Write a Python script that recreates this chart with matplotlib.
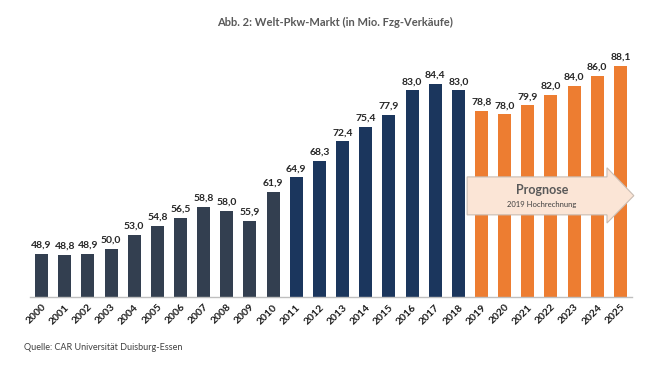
import matplotlib
matplotlib.use("Agg")
import matplotlib.pyplot as plt
from matplotlib.patches import Polygon

plt.rcParams['font.family'] = ['Lato', 'DejaVu Sans']

years = [str(y) for y in range(2000, 2026)]
sales = [48.9, 48.8, 48.9, 50.0, 53.0, 54.8, 56.5, 58.8, 58.0, 55.9, 61.9,
         64.9, 68.3, 72.4, 75.4, 77.9, 83.0, 84.4, 83.0,
         78.8, 78.0, 79.9, 82.0, 84.0, 86.0, 88.1]
labels = [f"{v:.1f}".replace(".", ",") for v in sales]

colors = (['#333f50'] * 11) + (['#1b365d'] * 8) + (['#ed7d31'] * 7)

fig = plt.figure(figsize=(6.45, 3.7), dpi=100)
ax = fig.add_axes([30 / 645, 1 - 297 / 370, 602 / 645, 257 / 370])

x = list(range(len(years)))
ax.bar(x, sales, width=0.56, color=colors, bottom=0, zorder=2)
ax.set_xlim(-0.5, 25.5)
ax.set_ylim(40, 93.5)

for xi, v, lab in zip(x, sales, labels):
    ax.annotate(lab, (xi, v), xytext=(0, 3), textcoords='offset points',
                ha='center', va='bottom', fontsize=7.5, fontweight='bold',
                color='#262626')

ax.set_xticks(x)
ax.set_xticklabels(years, rotation=45, ha='right', rotation_mode='anchor',
                   fontsize=7.5, fontweight='bold', color='#1a1a1a')
ax.tick_params(axis='x', length=0, pad=4)
ax.set_yticks([])
for s in ['top', 'right', 'left']:
    ax.spines[s].set_visible(False)
ax.spines['bottom'].set_color('#bfbfbf')
ax.spines['bottom'].set_linewidth(1)

# Prognose arrow
arrow = Polygon([(18.38, 57.1), (24.42, 57.1), (24.42, 55.4), (25.58, 61.1),
                 (24.42, 66.9), (24.42, 65.0), (18.38, 65.0)],
                closed=True, facecolor='#fbe5d6', edgecolor='#c9bcb2',
                linewidth=0.8, zorder=3, clip_on=False)
ax.add_patch(arrow)
ax.text(21.6, 62.3, 'Prognose', ha='center', va='center', fontsize=9,
        fontweight='bold', color='#595959', zorder=4)
ax.text(21.6, 59.2, '2019 Hochrechnung', ha='center', va='center',
        fontsize=5.5, color='#404040', zorder=4)

fig.text(335 / 645, 1 - 22 / 370, 'Abb. 2: Welt-Pkw-Markt (in Mio. Fzg-Verkäufe)',
         ha='center', va='center', fontsize=8, fontweight='bold', color='#595959')
fig.text(24 / 645, 1 - 347 / 370, 'Quelle: CAR Universität Duisburg-Essen',
         ha='left', va='center', fontsize=6.5, color='#404040')

fig.savefig('out.png', dpi=100)
